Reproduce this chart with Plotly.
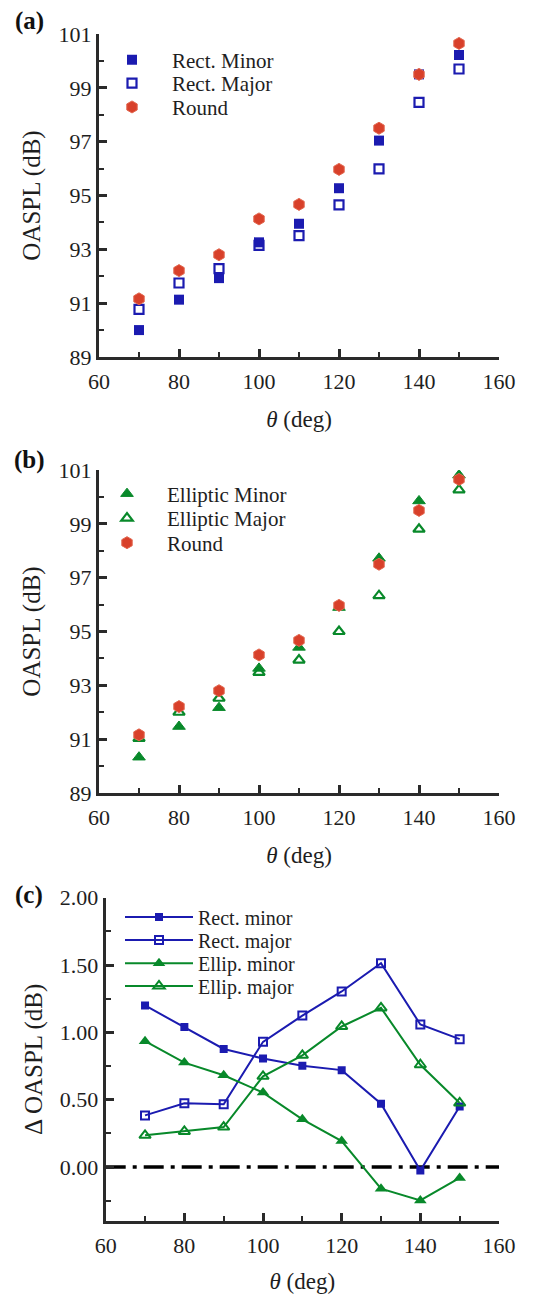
import plotly.graph_objects as go

theta = [70, 80, 90, 100, 110, 120, 130, 140, 150]

rect_minor = [90.0, 91.13, 91.93, 93.26, 93.95, 95.27, 97.04, 99.5, 100.22]
rect_major = [90.77, 91.75, 92.28, 93.15, 93.51, 94.65, 95.99, 98.46, 99.7]
round_jet = [91.16, 92.21, 92.8, 94.13, 94.67, 95.97, 97.5, 99.5, 100.65]
ellip_minor = [90.33, 91.47, 92.17, 93.63, 94.41, 95.89, 97.72, 99.85, 100.81]
ellip_major = [91.03, 92.0, 92.52, 93.48, 93.94, 95.0, 96.33, 98.8, 100.26]

d_rect_minor = [1.20, 1.04, 0.877, 0.806, 0.753, 0.72, 0.471, -0.025, 0.45]
d_rect_major = [0.384, 0.474, 0.467, 0.93, 1.125, 1.304, 1.514, 1.059, 0.95]
d_ellip_minor = [0.935, 0.776, 0.682, 0.553, 0.355, 0.193, -0.16, -0.247, -0.08]
d_ellip_major = [0.236, 0.265, 0.297, 0.674, 0.83, 1.044, 1.182, 0.76, 0.476]

yticks_ab = [89, 91, 93, 95, 97, 99, 101]
yticks_c = [0.0, 0.5, 1.0, 1.5, 2.0]
yticks_c_text = ["0.00", "0.50", "1.00", "1.50", "2.00"]
xticks = [60, 80, 100, 120, 140, 160]

BLUE = "#1b1bb0"
GREEN = "#08892a"
RED = "#d8402a"
AX = "#2a2a2a"
TXT = "#1e1e1e"
FONT = "Liberation Serif"

W, H = 559, 1294

def px_x(p):
    return p / W

def px_y(p):
    return 1 - p / H

fig = go.Figure()

def leg_name(i):
    return "legend" if i == 1 else f"legend{i}"

legend_cfg = {}
leg_counter = [0]

def add_leg(xc, yc, size=21, itemwidth=70):
    leg_counter[0] += 1
    i = leg_counter[0]
    legend_cfg[leg_name(i)] = dict(
        x=px_x(xc), y=px_y(yc), xanchor="left", yanchor="middle",
        bgcolor="rgba(0,0,0,0)", borderwidth=0,
        font=dict(family=FONT, size=size, color=TXT),
        itemwidth=itemwidth,
    )
    return leg_name(i)

# ---- panel (a)
LX_A = 92
fig.add_trace(go.Scatter(x=theta, y=rect_minor, mode="markers", name="Rect. Minor",
    marker=dict(symbol="square", size=10, color=BLUE, line=dict(width=0)),
    xaxis="x", yaxis="y", legend=add_leg(LX_A, 60)))
fig.add_trace(go.Scatter(x=theta, y=rect_major, mode="markers", name="Rect. Major",
    marker=dict(symbol="square-open", size=9, color=BLUE, line=dict(width=2.2)),
    xaxis="x", yaxis="y", legend=add_leg(LX_A, 83.5)))
fig.add_trace(go.Scatter(x=theta, y=round_jet, mode="markers", name="Round",
    marker=dict(symbol="hexagon", size=12, color=RED, line=dict(width=1, color="#e2664e")),
    xaxis="x", yaxis="y", legend=add_leg(LX_A, 107.3)))

# ---- panel (b)
LX_B = 87
fig.add_trace(go.Scatter(x=theta, y=ellip_minor, mode="markers", name="Elliptic Minor",
    marker=dict(symbol="triangle-up", size=11, color=GREEN, line=dict(width=1, color=GREEN)),
    xaxis="x2", yaxis="y2", legend=add_leg(LX_B, 494)))
fig.add_trace(go.Scatter(x=theta, y=ellip_major, mode="markers", name="Elliptic Major",
    marker=dict(symbol="triangle-up-open", size=10, color=GREEN, line=dict(width=2.2)),
    xaxis="x2", yaxis="y2", legend=add_leg(LX_B, 518.5)))
fig.add_trace(go.Scatter(x=theta, y=round_jet, mode="markers", name="Round",
    marker=dict(symbol="hexagon", size=12, color=RED, line=dict(width=1, color="#e2664e")),
    xaxis="x2", yaxis="y2", legend=add_leg(LX_B, 543)))

# ---- panel (c)
LX_C = 120
fig.add_trace(go.Scatter(x=theta, y=d_rect_minor, mode="lines+markers", name="Rect. minor",
    line=dict(color=BLUE, width=2),
    marker=dict(symbol="square", size=8, color=BLUE),
    xaxis="x3", yaxis="y3", legend=add_leg(LX_C, 917, 20, 68)))
fig.add_trace(go.Scatter(x=theta, y=d_rect_major, mode="lines+markers", name="Rect. major",
    line=dict(color=BLUE, width=2),
    marker=dict(symbol="square-open", size=8, color=BLUE, line=dict(width=2)),
    xaxis="x3", yaxis="y3", legend=add_leg(LX_C, 940, 20, 68)))
fig.add_trace(go.Scatter(x=theta, y=d_ellip_minor, mode="lines+markers", name="Ellip. minor",
    line=dict(color=GREEN, width=2),
    marker=dict(symbol="triangle-up", size=11, color=GREEN),
    xaxis="x3", yaxis="y3", legend=add_leg(LX_C, 963.3, 20, 68)))
fig.add_trace(go.Scatter(x=theta, y=d_ellip_major, mode="lines+markers", name="Ellip. major",
    line=dict(color=GREEN, width=2),
    marker=dict(symbol="triangle-up-open", size=10, color=GREEN, line=dict(width=2)),
    xaxis="x3", yaxis="y3", legend=add_leg(LX_C, 986, 20, 68)))

fig.add_shape(type="line", xref="x3 domain", yref="y3", x0=0, x1=1, y0=0, y1=0,
              line=dict(color="black", width=3.5, dash="20px,7px,4px,7px"), layer="below")

tickfont = dict(family=FONT, size=22, color=TXT)
xtitlefont = dict(family=FONT, size=23, color=TXT)
ytitlefont = dict(family=FONT, size=25, color=TXT)

def xaxis(domain, anchor):
    return dict(domain=domain, anchor=anchor, range=[60, 160], tickvals=xticks,
                automargin=False,
                showline=True, linecolor=AX, linewidth=3, mirror=False,
                ticks="inside", ticklen=8, tickwidth=2.5, tickcolor=AX,
                ticklabelstandoff=3,
                minor=dict(ticks="inside", ticklen=5, tickwidth=2, tickcolor=AX, dtick=10, tick0=60),
                showgrid=False, zeroline=False, tickfont=tickfont,
                title=dict(text="<i>θ</i> (deg)", font=xtitlefont, standoff=18))

def yaxis(domain, anchor, rng, tv, tt=None, minor_dtick=1, tick0=89):
    d = dict(domain=domain, anchor=anchor, range=rng, tickvals=tv,
             automargin=False,
             showline=True, linecolor=AX, linewidth=3, mirror=False,
             ticks="inside", ticklen=8, tickwidth=2.5, tickcolor=AX,
             minor=dict(ticks="inside", ticklen=5, tickwidth=2, tickcolor=AX, dtick=minor_dtick, tick0=tick0),
             showgrid=False, zeroline=False, tickfont=tickfont,
             title=dict(text="OASPL (dB)", font=ytitlefont, standoff=11))
    if tt is not None:
        d["ticktext"] = tt
    return d

ya = yaxis([px_y(357), px_y(34)], "x", [89, 101], yticks_ab)
yb = yaxis([px_y(793), px_y(470)], "x2", [89, 101], yticks_ab)
yc = yaxis([px_y(1221), px_y(897.7)], "x3", [-0.4, 2.0], yticks_c, yticks_c_text, 0.25, 0)
yc["title"]["text"] = "Δ OASPL (dB)"

fig.update_layout(
    template="none",
    width=W, height=H, margin=dict(l=0, r=0, t=0, b=0, autoexpand=False),
    paper_bgcolor="white", plot_bgcolor="white",
    showlegend=True,
    font=dict(family=FONT, color=TXT),
    xaxis=xaxis([px_x(99), px_x(499)], "y"),
    xaxis2=xaxis([px_x(99), px_x(499)], "y2"),
    xaxis3=xaxis([px_x(105.7), px_x(499)], "y3"),
    yaxis=ya, yaxis2=yb, yaxis3=yc,
    **legend_cfg,
)

for lbl, yc_ in [("(a)", 21.5), ("(b)", 460), ("(c)", 895)]:
    fig.add_annotation(text=f"<b>{lbl}</b>", x=px_x(29), y=px_y(yc_), xref="paper", yref="paper",
                       xanchor="center", yanchor="middle", showarrow=False,
                       font=dict(family=FONT, size=25, color="#111"))

fig.write_html("out.html")
